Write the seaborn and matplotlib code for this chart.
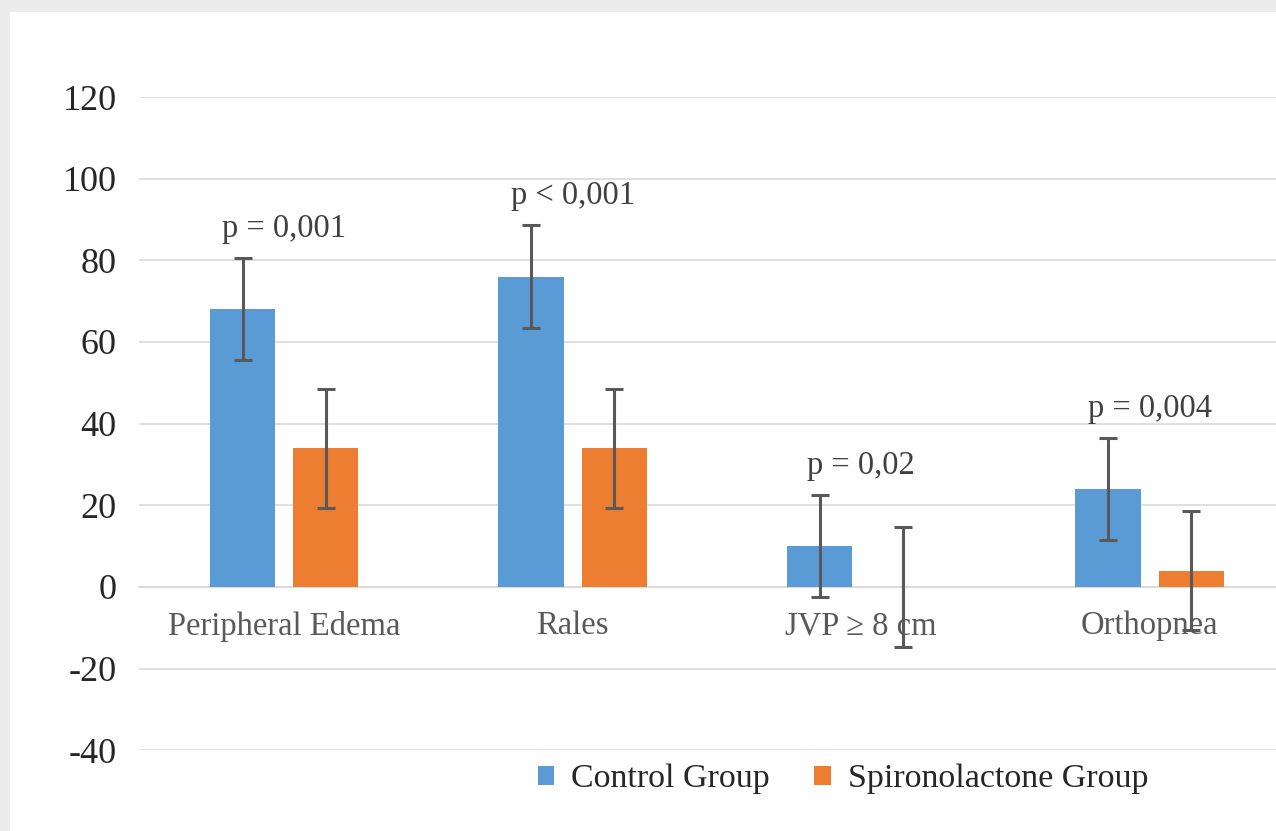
import matplotlib
matplotlib.use("Agg")
import matplotlib.pyplot as plt
import matplotlib.patches as mpatches
import seaborn as sns
import pandas as pd
import numpy as np

categories = ["Peripheral Edema", "Rales", "JVP \u2265 8 cm", "Orthopnea"]
groups = ["Control Group", "Spironolactone Group"]
control_values = [68, 76, 10, 24]
spiro_values = [34, 34, 0, 4]
control_err = [12.5, 12.6, 12.5, 12.5]
spiro_err = [14.6, 14.6, 14.7, 14.6]
p_labels = ["p = 0,001", "p < 0,001", "p = 0,02", "p = 0,004"]
y_ticks = [-40, -20, 0, 20, 40, 60, 80, 100, 120]

colors = ["#5B9BD5", "#ED7D31"]

df = pd.DataFrame({
    "category": categories * 2,
    "group": [groups[0]] * 4 + [groups[1]] * 4,
    "value": control_values + spiro_values,
    "err": control_err + spiro_err,
})

sns.set_style("white")
plt.rcParams["font.family"] = ["Liberation Serif", "DejaVu Serif"]
plt.rcParams["axes.unicode_minus"] = False

W, H = 1276, 831
fig = plt.figure(figsize=(W / 100, H / 100), dpi=100)
fig.patch.set_facecolor("#ECECEC")
fig.patches.append(mpatches.Rectangle((10 / W, 0), 1, (H - 12) / H,
                                      transform=fig.transFigure,
                                      facecolor="white", edgecolor="none",
                                      zorder=-10))

left_px, right_px = 139, 1276
top_px, bot_px = 97, 750.3
ax = fig.add_axes([left_px / W, (H - bot_px) / H,
                   (right_px - left_px) / W, (bot_px - top_px) / H])
ax.patch.set_alpha(0)

sns.barplot(data=df, x="category", y="value", hue="group", order=categories,
            hue_order=groups, palette=colors, saturation=1, width=0.576, gap=0.215,
            errorbar=None, ax=ax, legend=False, zorder=3, linewidth=0)

# error bars at bar centers
bars = ax.patches
for i, bar in enumerate(bars[:8]):
    xc = bar.get_x() + bar.get_width() / 2
    g = i // 4
    k = i % 4
    val = control_values[k] if g == 0 else spiro_values[k]
    err = control_err[k] if g == 0 else spiro_err[k]
    ax.errorbar(xc, val, yerr=err, fmt="none", ecolor="#595959",
                elinewidth=2.2, capsize=6.5, capthick=2.2, zorder=4)

# p-value annotations
for k, lab in enumerate(p_labels):
    ax.text(k, control_values[k] + control_err[k] + 7.2, lab,
            ha="center", va="center", fontsize=23.5, color="#404040", zorder=5)

ax.set_ylim(-40, 120)
ax.set_xlim(-0.503, 3.438)
ax.set_yticks(y_ticks)
ax.set_yticklabels([str(t) for t in y_ticks], fontsize=26, color="#262626")
ax.yaxis.grid(True, color="#D9D9D9", linewidth=1.2, zorder=0)
ax.set_axisbelow(True)
for s in ["top", "right", "left"]:
    ax.spines[s].set_visible(False)
ax.spines["bottom"].set_position(("data", 0))
ax.spines["bottom"].set_color("#D9D9D9")
ax.spines["bottom"].set_linewidth(1.2)
ax.tick_params(axis="y", length=0, pad=16)
ax.tick_params(axis="x", length=0, pad=17, labelsize=23.5, labelcolor="#595959")
ax.set_xlabel("")
ax.set_ylabel("")

handles = [mpatches.Patch(facecolor=c, edgecolor="none") for c in colors]
fig.legend(handles, groups, loc="center", bbox_to_anchor=(843 / W, (H - 779) / H),
           ncol=2, frameon=False, fontsize=24.5, handlelength=0.48, handleheight=0.48,
           handletextpad=0.5, columnspacing=1.3)

fig.savefig("out.png", dpi=100, facecolor=fig.get_facecolor())
